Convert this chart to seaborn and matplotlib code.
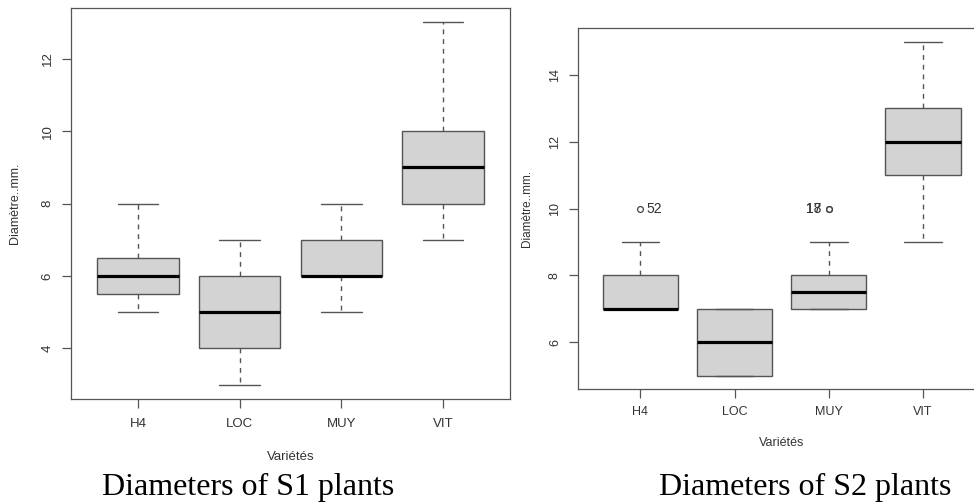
import numpy as np
import pandas as pd
import matplotlib
matplotlib.use("Agg")
import matplotlib.pyplot as plt
import seaborn as sns

# ---------------- data ----------------
varieties = ["H4", "LOC", "MUY", "VIT"]

# S1 plants: observation samples reproducing the drawn boxes
s1_H4 = [5, 5.5, 6, 6.5, 8]
s1_LOC = [3, 4, 5, 6, 7]
s1_MUY = [5, 6, 6, 7, 8]
s1_VIT = [7, 8, 9, 10, 13]

# S2 plants
s2_H4 = [7, 7, 7, 7, 7, 8, 8, 9, 10]
s2_LOC = [5, 5, 6, 7, 7]
s2_MUY = [7, 7, 7, 7, 7, 7, 7.5, 8, 8, 8, 9, 10, 10]
s2_VIT = [9, 11, 12, 13, 15]

# labelled outliers of S2 (variety, value, label, side)
s2_out_var = ["H4", "MUY", "MUY"]
s2_out_val = [10, 10, 10]
s2_out_lab = ["52", "17", "18"]
s2_out_side = ["right", "left", "left"]

s1_yticks = [4, 6, 8, 10, 12]
s2_yticks = [6, 8, 10, 12, 14]

x_label = "Variétés"
y_label = "Diamètre..mm."
captions = ["Diameters of S1 plants", "Diameters of S2 plants"]


def to_long(groups):
    rows = []
    for v, vals in zip(varieties, groups):
        for val in vals:
            rows.append({"Variete": v, "Diametre": val})
    return pd.DataFrame(rows)


df1 = to_long([s1_H4, s1_LOC, s1_MUY, s1_VIT])
df2 = to_long([s2_H4, s2_LOC, s2_MUY, s2_VIT])

# ---------------- style ----------------
sns.set_theme(style="ticks")
plt.rcParams["font.family"] = ["Liberation Sans", "DejaVu Sans"]

LINE = "#555555"
TXT = "#333333"

fig = plt.figure(figsize=(9.74, 5.04), dpi=100)
fig.patch.set_facecolor("white")

ax1 = fig.add_axes([71 / 974, 1 - 399 / 504, 439 / 974, 391 / 504])
ax2 = fig.add_axes([578.3 / 974, 1 - 389 / 504, 406.7 / 974, 360.7 / 504])

box_kws = dict(
    order=varieties,
    color="#D3D3D3",
    saturation=1,
    linecolor=LINE,
    linewidth=1.0,
    width=0.8,
    whis=1.5,
    whiskerprops=dict(linestyle=(0, (3.5, 3.5)), color=LINE, linewidth=1.0),
    capprops=dict(color=LINE, linewidth=1.0),
    medianprops=dict(color="black", linewidth=2.3),
    flierprops=dict(marker="o", markerfacecolor="none",
                    markeredgecolor="#444444", markersize=4.2,
                    markeredgewidth=0.9),
)

sns.boxplot(data=df1, x="Variete", y="Diametre", ax=ax1, **box_kws)
sns.boxplot(data=df2, x="Variete", y="Diametre", ax=ax2, **box_kws)

for ax, yt, ylim, fs, xpad, xly in [
    (ax1, s1_yticks, (2.6, 13.4), 9.5, 7.5, -0.148),
    (ax2, s2_yticks, (4.6, 15.4), 9.0, 6.0, -0.149),
]:
    ax.set_xlim(-0.66, 3.66)
    ax.set_ylim(*ylim)
    ax.set_yticks(yt)
    ax.set_yticklabels([str(t) for t in yt], rotation=90, va="center")
    ax.set_xticks(range(len(varieties)))
    ax.set_xticklabels(varieties)
    for s in ax.spines.values():
        s.set_visible(True)
        s.set_color(LINE)
        s.set_linewidth(0.9)
    ax.tick_params(axis="both", colors=LINE, labelcolor=TXT, length=6.5,
                   width=0.9, labelsize=fs)
    ax.tick_params(axis="x", pad=xpad)
    ax.tick_params(axis="y", pad=6)
    ax.set_xlabel(x_label, fontsize=fs, color=TXT)
    ax.set_ylabel(y_label, fontsize=fs - 0.5, color=TXT)
    ax.xaxis.set_label_coords(0.5, xly)
    ax.xaxis.label.set_verticalalignment("center")
    ax.yaxis.set_label_coords(-0.127, 0.5)
    ax.yaxis.label.set_verticalalignment("center")
    ax.set_facecolor("white")

# outlier labels on S2
for v, val, lab, side in zip(s2_out_var, s2_out_val, s2_out_lab, s2_out_side):
    xi = varieties.index(v)
    dx = 4.5 if side == "right" else -5.5
    ax2.annotate(lab, xy=(xi, val), xytext=(dx, 0), textcoords="offset points",
                 ha="left" if side == "right" else "right", va="center",
                 fontsize=10, color=TXT)

# captions
fig.text(248 / 974, 1 - 495 / 504, captions[0], ha="center", va="baseline",
         fontsize=23, family=["Liberation Serif", "DejaVu Serif"], color="black")
fig.text(805 / 974, 1 - 495 / 504, captions[1], ha="center", va="baseline",
         fontsize=23, family=["Liberation Serif", "DejaVu Serif"], color="black")

fig.savefig("out.png", dpi=100, facecolor="white")
